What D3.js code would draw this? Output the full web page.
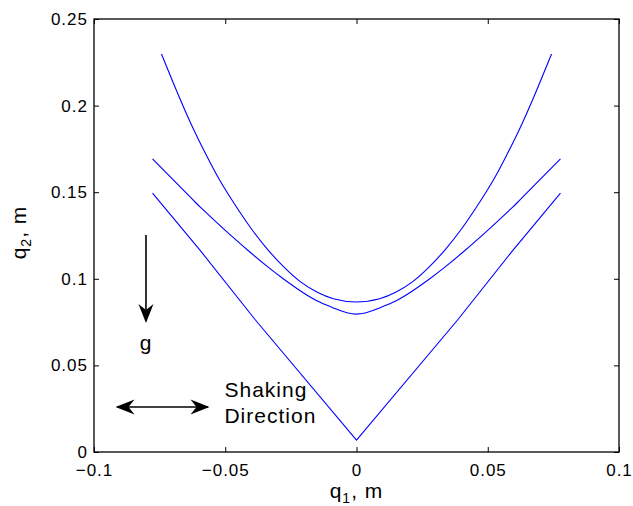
<!DOCTYPE html>
<html>
  <head>
    <meta charset="utf-8">
    <script src="https://d3js.org/d3.v7.min.js"></script>
    <style>
      body {
        margin: 0;
        background: #fff;
        font-family: "Liberation Sans", Arial, Helvetica, sans-serif;
      }
      .tick text {
        font-size: 17px;
        letter-spacing: 1px;
        fill: #000;
      }
      .tick line {
        stroke: #000;
        stroke-width: 1;
      }
      .curve {
        fill: none;
        stroke: #0000ff;
        stroke-width: 1.1px;
      }
      .note {
        font-size: 21px;
        letter-spacing: 1px;
        fill: #000;
      }
    </style>
  </head>
  <body>
    <svg width="633" height="506"></svg>
    <script>

    // outer curve (parabola-like)
    var outerX = [-0.0743, -0.0697, -0.0632, -0.0568, -0.0522, -0.0469, -0.0404, -0.0339, -0.0278, -0.0213, -0.0149, -0.0088, 0,
                  0.0088, 0.0149, 0.0213, 0.0278, 0.0339, 0.0404, 0.0469, 0.0522, 0.0568, 0.0632, 0.0697, 0.0743];
    var outerY = [0.2298, 0.2128, 0.1900, 0.1702, 0.1572, 0.1442, 0.1296, 0.1170, 0.1070, 0.0982, 0.0922, 0.0885, 0.0866,
                  0.0885, 0.0922, 0.0982, 0.1070, 0.1170, 0.1296, 0.1442, 0.1572, 0.1702, 0.1900, 0.2128, 0.2298];

    // middle curve
    var midX = [-0.0777, -0.0632, -0.0594, -0.0530, -0.0469, -0.0404, -0.0339, -0.0278, -0.0213, -0.0149, -0.0088, 0,
                0.0088, 0.0149, 0.0213, 0.0278, 0.0339, 0.0404, 0.0469, 0.0530, 0.0594, 0.0632, 0.0777];
    var midY = [0.1692, 0.1470, 0.1412, 0.1322, 0.1238, 0.1152, 0.1070, 0.0999, 0.0930, 0.0872, 0.0832, 0.0796,
                0.0832, 0.0872, 0.0930, 0.0999, 0.1070, 0.1152, 0.1238, 0.1322, 0.1412, 0.1470, 0.1692];

    // inner V curve
    var innerX = [-0.0777, -0.0594, -0.0385, 0, 0.0385, 0.0594, 0.0777];
    var innerY = [0.1495, 0.1161, 0.0762, 0.0069, 0.0762, 0.1161, 0.1495];

    var xTicks = [-0.1, -0.05, 0, 0.05, 0.1];
    var yTicks = [0, 0.05, 0.1, 0.15, 0.2, 0.25];

    var svg = d3.select("svg"),
        margin = {top: 19, right: 14, bottom: 54, left: 94},
        width = +svg.attr("width") - margin.left - margin.right,
        height = +svg.attr("height") - margin.top - margin.bottom,
        g = svg.append("g").attr("transform", "translate(" + margin.left + "," + margin.top + ")");

    var x = d3.scaleLinear().domain([-0.1, 0.1]).range([0, width]),
        y = d3.scaleLinear().domain([0, 0.25]).range([height, 0]);

    var fmt = function(d) { return d === 0 ? "0" : String(d).replace("-", "\u2212"); };

    var line = d3.line()
        .curve(d3.curveNatural)
        .x(function(d) { return x(d[0]); })
        .y(function(d) { return y(d[1]); });

    var vline = d3.line()
        .x(function(d) { return x(d[0]); })
        .y(function(d) { return y(d[1]); });

    function pairs(xs, ys) { return xs.map(function(v, i) { return [v, ys[i]]; }); }

    // axes, ticks pointing inwards
    var gx = g.append("g")
        .attr("transform", "translate(0," + height + ")")
        .call(d3.axisBottom(x).tickValues(xTicks).tickFormat(fmt).tickSize(-5).tickPadding(12));
    var gy = g.append("g")
        .call(d3.axisLeft(y).tickValues(yTicks).tickFormat(fmt).tickSize(-5).tickPadding(6));
    var gt = g.append("g")
        .call(d3.axisTop(x).tickValues(xTicks).tickFormat("").tickSize(-5));
    var gr = g.append("g")
        .attr("transform", "translate(" + width + ",0)")
        .call(d3.axisRight(y).tickValues(yTicks).tickFormat("").tickSize(-5));

    [gx, gy, gt, gr].forEach(function(a) {
      a.select(".domain").remove();
      a.attr("font-family", null).attr("font-size", null);
    });

    g.append("path").attr("class", "curve").attr("d", line(pairs(outerX, outerY)));
    g.append("path").attr("class", "curve").attr("d", line(pairs(midX, midY)));
    g.append("path").attr("class", "curve").attr("d", vline(pairs(innerX, innerY)));

    g.append("rect")
        .attr("width", width)
        .attr("height", height)
        .attr("fill", "none")
        .attr("stroke", "#000")
        .attr("stroke-width", 1.3);

    // annotations: gravity arrow and shaking direction arrow
    function head(px, py, angle) {
      g.append("path")
          .attr("d", "M0,0L-19,-7.5L-13,0L-19,7.5Z")
          .attr("fill", "#000")
          .attr("transform", "translate(" + px + "," + py + ") rotate(" + angle + ")");
    }

    var gxp = x(-0.0802);
    g.append("line")
        .attr("x1", gxp).attr("x2", gxp)
        .attr("y1", y(0.1253)).attr("y2", y(0.0760))
        .attr("stroke", "#000").attr("stroke-width", 1.6);
    head(gxp, y(0.0745), 90);

    g.append("text")
        .attr("class", "note")
        .attr("x", gxp)
        .attr("y", y(0.0589))
        .attr("text-anchor", "middle")
        .text("g");

    var sy = y(0.026);
    g.append("line")
        .attr("x1", x(-0.0912)).attr("x2", x(-0.0566))
        .attr("y1", sy).attr("y2", sy)
        .attr("stroke", "#000").attr("stroke-width", 1.6);
    head(x(-0.0560), sy, 0);
    head(x(-0.0918), sy, 180);

    var shake = g.append("text")
        .attr("class", "note")
        .attr("x", x(-0.0503))
        .attr("y", y(0.0318));
    shake.append("tspan").text("Shaking");
    shake.append("tspan").attr("x", x(-0.0503)).attr("dy", 26).text("Direction");

    // axis labels
    var xl = svg.append("text")
        .attr("class", "note")
        .attr("x", margin.left + x(0))
        .attr("y", 498)
        .attr("text-anchor", "middle");
    xl.append("tspan").text("q");
    xl.append("tspan").attr("font-size", "14px").attr("dy", 5).text("1");
    xl.append("tspan").attr("dy", -5).text(", m");

    var yl = svg.append("text")
        .attr("class", "note")
        .attr("transform", "translate(26," + (margin.top + height / 2 - 3) + ") rotate(-90)")
        .attr("text-anchor", "middle");
    yl.append("tspan").text("q");
    yl.append("tspan").attr("font-size", "14px").attr("dy", 5).text("2");
    yl.append("tspan").attr("dy", -5).text(", m");

    </script>
  </body>
</html>
